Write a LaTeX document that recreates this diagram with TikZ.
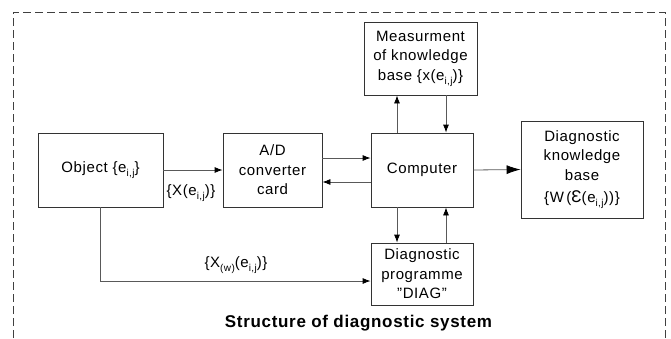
\documentclass[tikz,border=0pt]{standalone}
\usepackage{fontspec}
\setmainfont[LetterSpace=4]{Liberation Sans}
\usetikzlibrary{arrows.meta,calc}
\newcommand{\lsub}[1]{\raisebox{-4pt}{\fontsize{10}{10}\selectfont #1}}
\begin{document}
\begin{tikzpicture}[x=1pt,y=-1pt,
  blk/.style={draw=black!80,line width=0.8pt,align=center,inner sep=0pt,font=\fontsize{15}{19.5}\selectfont},
  con/.style={draw=black!65,line width=0.8pt,-{Latex[length=8pt,width=6pt,color=black]}},
  lbl/.style={font=\fontsize{15}{19.5}\selectfont,inner sep=0pt}]
\useasboundingbox (0,0) rectangle (671,338);
% dashed frame
\draw[black!75,line width=0.8pt,dash pattern=on 8pt off 4pt] (13,338) -- (13,12) -- (665,12) -- (665,338);
% blocks
\node[blk,minimum width=125pt,minimum height=74pt] (obj) at (100.5,170) {Object \{e\lsub{i,j}\}};
\node[blk,minimum width=99pt,minimum height=74pt] (ad) at (272.5,170) {A/D\\converter\\card};
\node[blk,minimum width=102pt,minimum height=74pt] (comp) at (422,170) {Computer};
\node[blk,minimum width=122pt,minimum height=97pt] (kb) at (582,169.5) {Diagnostic\\knowledge\\base\\[3pt]\{W\,({\fontsize{17}{17}\selectfont Ɛ}(e\lsub{i,j}))\}};
\node[blk,minimum width=113pt,minimum height=73pt] (meas) at (420.5,58.5) {Measurment\\of knowledge\\base \{x(e\lsub{i,j})\}};
\node[blk,minimum width=102pt,minimum height=62pt] (diag) at (422,274) {Diagnostic\\programme\\"DIAG"};
% connectors
\draw[con] (obj.east) -- (ad.west);
\node[lbl] (l1) at (191,193) {\{X(e\lsub{i,j})\}};
\draw[con] ([yshift=12pt]ad.east) -- ([yshift=12pt]comp.west);
\draw[con] ([yshift=-12pt]comp.west) -- ([yshift=-12pt]ad.east);
\draw[con] ([xshift=-25pt]comp.north) -- ([xshift=-25pt]comp.north |- meas.south);
\draw[con] ([xshift=24pt]comp.north |- meas.south) -- ([xshift=24pt]comp.north);
\draw[con] ([xshift=-25pt]comp.south) -- ([xshift=-25pt]comp.south |- diag.north);
\draw[con] ([xshift=24pt]comp.south |- diag.north) -- ([xshift=24pt]comp.south);
\draw[draw=black!65,line width=0.8pt,-{Latex[length=14pt,width=9pt,color=black]}] (comp.east) -- (kb.west);
\draw[con] (obj.south) |- ([yshift=-7pt]diag.west);
\node[lbl] (l2) at (236,265) {\{X\lsub{(w)}(e\lsub{i,j})\}};
% caption
\node[font=\bfseries\fontsize{17}{20}\selectfont,inner sep=0pt] (cap) at (358.5,323) {Structure of diagnostic system};
\end{tikzpicture}
\end{document}
